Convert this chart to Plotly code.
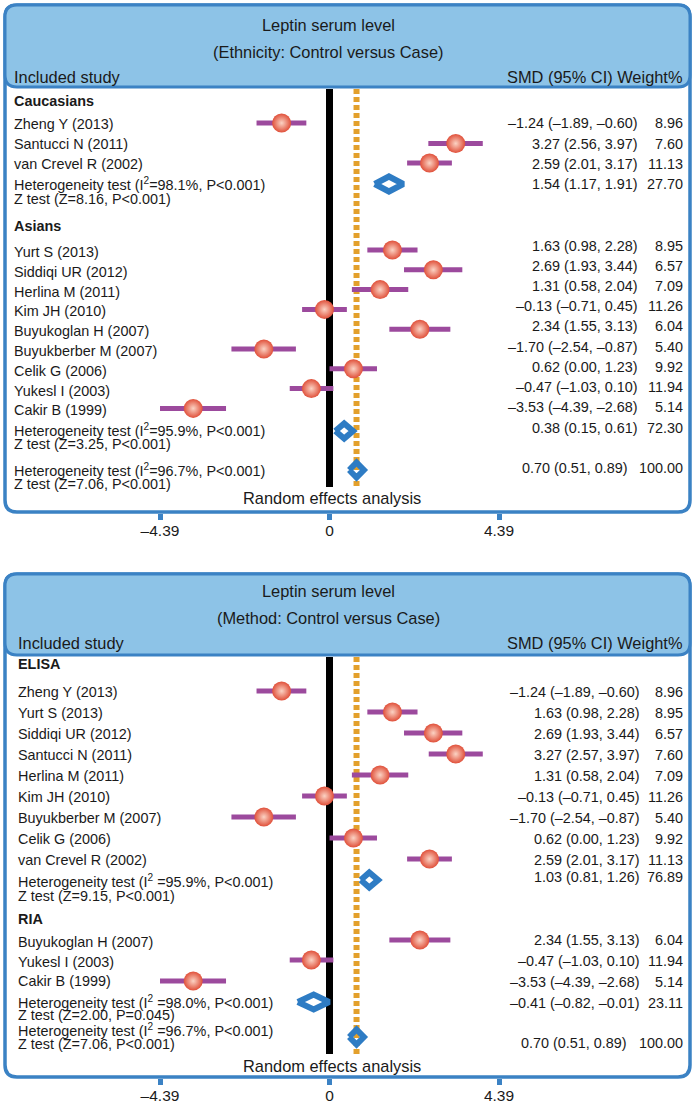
import plotly.graph_objects as go

# ---------------- data ----------------
title_text = "Leptin serum level"
eth_subtitle = "(Ethnicity: Control versus Case)"
met_subtitle = "(Method: Control versus Case)"
col_left = "Included study"
col_right = "SMD (95% CI) Weight%"
footer_text = "Random effects analysis"
tick_vals = [-4.39, 0, 4.39]
tick_text = ["–4.39", "0", "4.39"]

# Panel 1: ethnicity
cau_studies = ["Zheng Y (2013)", "Santucci N (2011)", "van Crevel R (2002)"]
cau_smd = [-1.24, 3.27, 2.59]
cau_lo = [-1.89, 2.56, 2.01]
cau_hi = [-0.60, 3.97, 3.17]
cau_w = [8.96, 7.60, 11.13]
cau_pooled = [1.54, 1.17, 1.91, 27.70]
cau_het = "Heterogeneity test (I<sup>2</sup>=98.1%, P<0.001)"
cau_z = "Z test (Z=8.16, P<0.001)"

asi_studies = ["Yurt S (2013)", "Siddiqi UR (2012)", "Herlina M (2011)", "Kim JH (2010)",
               "Buyukoglan H (2007)", "Buyukberber M (2007)", "Celik G (2006)",
               "Yukesl I (2003)", "Cakir B (1999)"]
asi_smd = [1.63, 2.69, 1.31, -0.13, 2.34, -1.70, 0.62, -0.47, -3.53]
asi_lo = [0.98, 1.93, 0.58, -0.71, 1.55, -2.54, 0.00, -1.03, -4.39]
asi_hi = [2.28, 3.44, 2.04, 0.45, 3.13, -0.87, 1.23, 0.10, -2.68]
asi_w = [8.95, 6.57, 7.09, 11.26, 6.04, 5.40, 9.92, 11.94, 5.14]
asi_pooled = [0.38, 0.15, 0.61, 72.30]
asi_het = "Heterogeneity test (I<sup>2</sup>=95.9%, P<0.001)"
asi_z = "Z test (Z=3.25, P<0.001)"

eth_overall = [0.70, 0.51, 0.89, 100.00]
eth_overall_het = "Heterogeneity test (I<sup>2</sup>=96.7%, P<0.001)"
eth_overall_z = "Z test (Z=7.06, P<0.001)"

# Panel 2: method
eli_studies = ["Zheng Y (2013)", "Yurt S (2013)", "Siddiqi UR (2012)", "Santucci N (2011)",
               "Herlina M (2011)", "Kim JH (2010)", "Buyukberber M (2007)",
               "Celik G (2006)", "van Crevel R (2002)"]
eli_smd = [-1.24, 1.63, 2.69, 3.27, 1.31, -0.13, -1.70, 0.62, 2.59]
eli_lo = [-1.89, 0.98, 1.93, 2.57, 0.58, -0.71, -2.54, 0.00, 2.01]
eli_hi = [-0.60, 2.28, 3.44, 3.97, 2.04, 0.45, -0.87, 1.23, 3.17]
eli_w = [8.96, 8.95, 6.57, 7.60, 7.09, 11.26, 5.40, 9.92, 11.13]
eli_pooled = [1.03, 0.81, 1.26, 76.89]
eli_het = "Heterogeneity test (I<sup>2</sup> =95.9%, P<0.001)"
eli_z = "Z test (Z=9.15, P<0.001)"

ria_studies = ["Buyukoglan H (2007)", "Yukesl I (2003)", "Cakir B (1999)"]
ria_smd = [2.34, -0.47, -3.53]
ria_lo = [1.55, -1.03, -4.39]
ria_hi = [3.13, 0.10, -2.68]
ria_w = [6.04, 11.94, 5.14]
ria_pooled = [-0.41, -0.82, -0.01, 23.11]
ria_het = "Heterogeneity test (I<sup>2</sup> =98.0%, P<0.001)"
ria_z = "Z test (Z=2.00, P=0.045)"

met_overall = [0.70, 0.51, 0.89, 100.00]
met_overall_het = "Heterogeneity test (I<sup>2</sup> =96.7%, P<0.001)"
met_overall_z = "Z test (Z=7.06, P<0.001)"

# ---------------- build structures ----------------
def group(name, studies, smd, lo, hi, w, pooled, het, z):
    return dict(name=name, studies=studies, smd=smd, lo=lo, hi=hi, w=w,
                pooled=pooled, het=het, z=z)

panels = [
    dict(subtitle=eth_subtitle,
         groups=[group("Caucasians", cau_studies, cau_smd, cau_lo, cau_hi, cau_w, cau_pooled, cau_het, cau_z),
                 group("Asians", asi_studies, asi_smd, asi_lo, asi_hi, asi_w, asi_pooled, asi_het, asi_z)],
         overall=eth_overall, overall_het=eth_overall_het, overall_z=eth_overall_z),
    dict(subtitle=met_subtitle,
         groups=[group("ELISA", eli_studies, eli_smd, eli_lo, eli_hi, eli_w, eli_pooled, eli_het, eli_z),
                 group("RIA", ria_studies, ria_smd, ria_lo, ria_hi, ria_w, ria_pooled, ria_het, ria_z)],
         overall=met_overall, overall_het=met_overall_het, overall_z=met_overall_z),
]

# ---------------- layout (pixel positions) ----------------
W, H = 696, 1104
PX0 = 329.5
PPU = 38.61
XMIN = -PX0 / PPU
XMAX = (W - PX0) / PPU
BOX_L, BOX_R = 5, 690

def seq(start, step, n):
    return [start + step * i for i in range(n)]

layouts = [
    dict(top=5, bottom=512, head_bottom=87, title_y=25, subtitle_y=52, colhead_y=77,
         label_x=12, ci_right=640, ci_right_overall=630, w_right=685,
         line_top=89, line_bottom=487, axis_y=513, footer_y=498,
         groups=[dict(sub_y=101, label_y=[124, 144, 164], mark_y=[123, 143.5, 163],
                      val_y=[123, 144, 164], het_y=184, z_y=199, dia_y=184, pval_y=184),
                 dict(sub_y=226, label_y=seq(252, 19.8, 9), mark_y=seq(250, 19.8, 9),
                      val_y=seq(245.5, 20.2, 9), het_y=430, z_y=444, dia_y=431, pval_y=428)],
         overall=dict(het_y=470, z_y=484, dia_y=470, val_y=468)),
    dict(top=574, bottom=1077, head_bottom=655, title_y=591, subtitle_y=618, colhead_y=643,
         label_x=16, ci_right=642, ci_right_overall=629, w_right=685,
         line_top=657, line_bottom=1054, axis_y=1078, footer_y=1066,
         groups=[dict(sub_y=664, label_y=seq(692, 21, 9), mark_y=seq(691, 21, 9),
                      val_y=seq(692, 21, 9), het_y=881, z_y=896, dia_y=880, pval_y=877),
                 dict(sub_y=919, label_y=[942, 962, 981], mark_y=[940, 960, 981],
                      val_y=[940, 961, 982], het_y=1002, z_y=1015, dia_y=1002, pval_y=1003)],
         overall=dict(het_y=1030, z_y=1044, dia_y=1037, val_y=1043)),
]

FONT = "Liberation Sans, Arial, Helvetica, sans-serif"
TXT = "#1a1a1a"
BLUE_LINE = "#3B82C4"
BLUE_FILL = "#8DC3E7"
DIA_BLUE = "#2E7CC4"
ORANGE = "#E3A02C"
PURPLE = "#9C4A9D"
RED = "#E0503A"
ROW_SIZE = 14.4
HEAD_SIZE = 16.4

def fmt(v):
    return f"{v:.2f}".replace("-", "–")

def ci_str(e, l, h):
    return f"{fmt(e)} ({fmt(l)}, {fmt(h)})"

def px(xp):
    return xp / W

fig = go.Figure()
annotations = []
shapes = []

def text(x, y, s, anchor="left", size=ROW_SIZE, bold=False):
    if bold:
        s = f"<b>{s}</b>"
    annotations.append(dict(x=px(x), y=y, xref="paper", yref="y", text=s, showarrow=False,
                            xanchor=anchor, yanchor="middle",
                            font=dict(family=FONT, size=size, color=TXT)))

def rrect(x0, y0, x1, y1, r):
    a0, a1 = px(x0), px(x1)
    rx = px(r)
    return (f"M {a0+rx},{y0} L {a1-rx},{y0} Q {a1},{y0} {a1},{y0+r} "
            f"L {a1},{y1-r} Q {a1},{y1} {a1-rx},{y1} L {a0+rx},{y1} "
            f"Q {a0},{y1} {a0},{y1-r} L {a0},{y0+r} Q {a0},{y0} {a0+rx},{y0} Z")

xrefs = ["x", "x2"]
for pi, (P, L) in enumerate(zip(panels, layouts)):
    xr = xrefs[pi]
    # boxes
    shapes.append(dict(type="path", path=rrect(BOX_L, L["top"], BOX_R, L["bottom"], 12),
                       xref="paper", yref="y", fillcolor="white",
                       line=dict(color=BLUE_LINE, width=3.5), layer="below"))
    shapes.append(dict(type="path", path=rrect(BOX_L, L["top"], BOX_R, L["head_bottom"], 12),
                       xref="paper", yref="y", fillcolor=BLUE_FILL,
                       line=dict(color=BLUE_LINE, width=3), layer="below"))
    # header text
    text(328, L["title_y"], title_text, anchor="center", size=HEAD_SIZE)
    text(328, L["subtitle_y"], P["subtitle"], anchor="center", size=HEAD_SIZE)
    text(L["label_x"], L["colhead_y"], col_left, size=HEAD_SIZE)
    text(L["w_right"], L["colhead_y"], col_right, anchor="right", size=HEAD_SIZE)
    text(332, L["footer_y"], footer_text, anchor="center", size=HEAD_SIZE)

    ov = P["overall"]
    # reference lines
    fig.add_trace(go.Scatter(x=[0, 0], y=[L["line_top"], L["line_bottom"]], xaxis=xr, yaxis="y",
                             mode="lines", line=dict(color="black", width=7),
                             hoverinfo="skip", showlegend=False))
    fig.add_trace(go.Scatter(x=[ov[0], ov[0]], y=[L["line_top"], L["line_bottom"]], xaxis=xr, yaxis="y",
                             mode="lines", line=dict(color=ORANGE, width=6, dash="5px,3px"),
                             hoverinfo="skip", showlegend=False))

    lx, ly, mx, my = [], [], [], []
    for G, GL in zip(P["groups"], L["groups"]):
        text(L["label_x"], GL["sub_y"], G["name"], bold=True)
        for s, e, lo, hi, w, yl, ym, yv in zip(G["studies"], G["smd"], G["lo"], G["hi"], G["w"],
                                                GL["label_y"], GL["mark_y"], GL["val_y"]):
            text(L["label_x"], yl, s)
            text(L["ci_right"], yv, ci_str(e, lo, hi), anchor="right")
            text(L["w_right"], yv, f"{w:.2f}", anchor="right")
            lx += [lo, hi, None]
            ly += [ym, ym, None]
            mx.append(e)
            my.append(ym)
        pe, pl, ph, pw = G["pooled"]
        text(L["label_x"], GL["het_y"], G["het"])
        text(L["label_x"], GL["z_y"], G["z"])
        text(L["ci_right"], GL["pval_y"], ci_str(pe, pl, ph), anchor="right")
        text(L["w_right"], GL["pval_y"], f"{pw:.2f}", anchor="right")
        d = GL["dia_y"]
        fig.add_trace(go.Scatter(x=[pl, pe, ph, pe, pl], y=[d, d - 7.5, d, d + 7.5, d], xaxis=xr, yaxis="y",
                                 mode="lines", fill="toself", fillcolor="white",
                                 line=dict(color=DIA_BLUE, width=6),
                                 hoverinfo="skip", showlegend=False))
    # overall
    OL = L["overall"]
    text(L["label_x"], OL["het_y"], P["overall_het"])
    text(L["label_x"], OL["z_y"], P["overall_z"])
    text(L["ci_right_overall"], OL["val_y"], ci_str(ov[0], ov[1], ov[2]), anchor="right")
    text(L["w_right"], OL["val_y"], f"{ov[3]:.2f}", anchor="right")
    d = OL["dia_y"]
    fig.add_trace(go.Scatter(x=[ov[1], ov[0], ov[2], ov[0], ov[1]], y=[d, d - 7.5, d, d + 7.5, d],
                             xaxis=xr, yaxis="y", mode="lines",
                             line=dict(color=DIA_BLUE, width=6),
                             hoverinfo="skip", showlegend=False))

    fig.add_trace(go.Scatter(x=lx, y=ly, xaxis=xr, yaxis="y", mode="lines",
                             line=dict(color=PURPLE, width=5), hoverinfo="skip", showlegend=False))
    fig.add_trace(go.Scatter(x=mx, y=my, xaxis=xr, yaxis="y", mode="markers",
                             marker=dict(size=19, color=RED, line=dict(width=0),
                                         gradient=dict(type="radial", color="#FBD3C4")),
                             hoverinfo="skip", showlegend=False))

axis_common = dict(range=[XMIN, XMAX], showgrid=False, zeroline=False, showline=False,
                   tickvals=tick_vals, ticktext=tick_text, ticks="outside", ticklen=6,
                   tickwidth=5, tickcolor=BLUE_LINE, fixedrange=True, anchor="free",
                   automargin=False, ticklabelstandoff=-3,
                   tickfont=dict(family=FONT, size=15.5, color=TXT))

fig.update_layout(
    width=W, height=H, margin=dict(l=0, r=0, t=0, b=0),
    paper_bgcolor="white", plot_bgcolor="white", showlegend=False,
    xaxis=dict(**axis_common, position=1 - layouts[0]["axis_y"] / H),
    xaxis2=dict(**axis_common, position=1 - layouts[1]["axis_y"] / H, overlaying="x"),
    yaxis=dict(range=[H, 0], domain=[0, 1], visible=False, fixedrange=True),
    shapes=shapes, annotations=annotations,
)

fig.write_html("out.html", config={"displayModeBar": False},
               post_script="document.body.style.margin='0px';document.body.style.overflow='hidden';")
